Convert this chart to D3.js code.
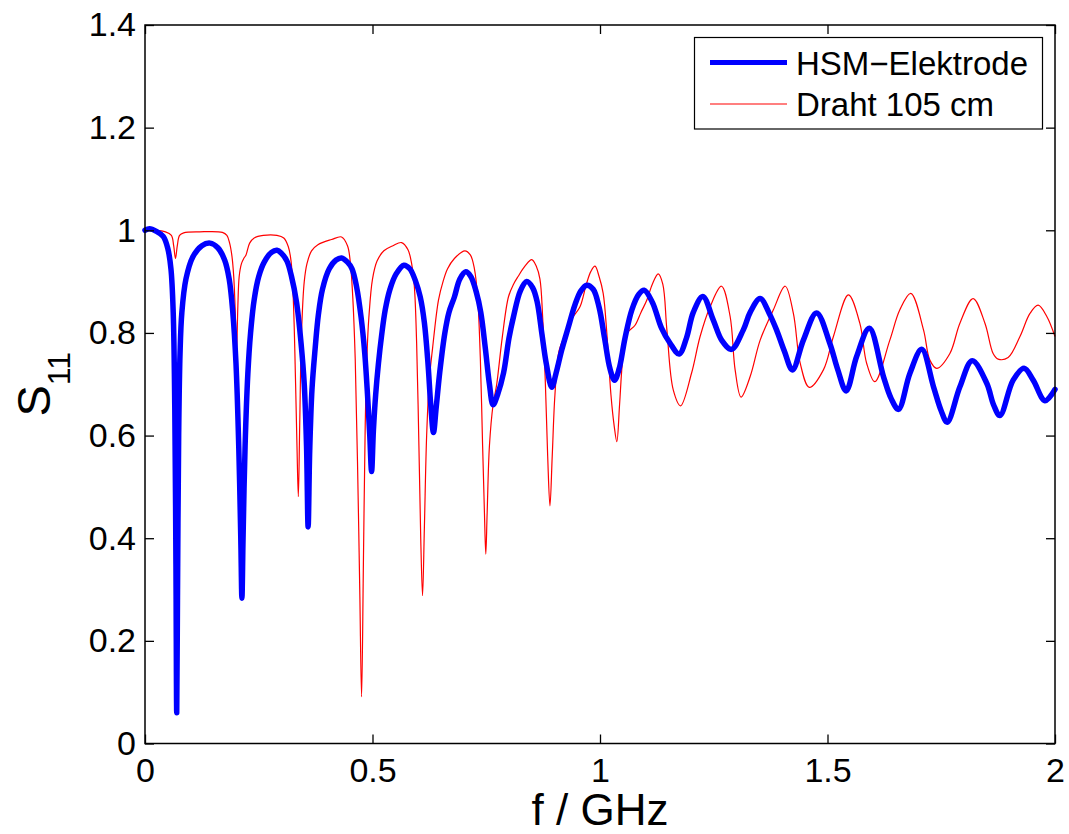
<!DOCTYPE html>
<html>
<head>
<meta charset="utf-8">
<script src="https://cdn.jsdelivr.net/npm/d3@7"></script>
<style>
  body { margin: 0; background: #fff; }
  svg { display: block; font-family: "Liberation Sans", Arial, Helvetica, sans-serif; }
</style>
</head>
<body>
<svg width="1069" height="834"></svg>
<script>
// S11 of HSM electrode vs. 105 cm wire
var xTicks = [0, 0.5, 1, 1.5, 2];
var xTickLabels = ["0", "0.5", "1", "1.5", "2"];
var yTicks = [0, 0.2, 0.4, 0.6, 0.8, 1, 1.2, 1.4];
var yTickLabels = ["0", "0.2", "0.4", "0.6", "0.8", "1", "1.2", "1.4"];
var seriesNames = ["HSM\u2212Elektrode", "Draht 105 cm"];

var hsmF = [0, 0.01, 0.025, 0.04, 0.05, 0.057, 0.062, 0.0655, 0.068, 0.0697, 0.0715, 0.074, 0.077, 0.081, 0.09,
  0.105, 0.125, 0.143, 0.16, 0.175, 0.185, 0.193, 0.2, 0.206, 0.2105, 0.213, 0.2155, 0.22, 0.226, 0.232, 0.24,
  0.25, 0.262, 0.278, 0.29, 0.3, 0.312, 0.322, 0.333, 0.343, 0.35, 0.355, 0.3585, 0.362, 0.367, 0.374, 0.381,
  0.39, 0.405, 0.42, 0.432, 0.445, 0.455, 0.465, 0.475, 0.483, 0.489, 0.494, 0.498, 0.502, 0.507, 0.513, 0.52,
  0.528, 0.538, 0.552, 0.569, 0.582, 0.595, 0.605, 0.614, 0.622, 0.628, 0.634, 0.64, 0.648, 0.659, 0.668, 0.68,
  0.692, 0.705, 0.716, 0.728, 0.738, 0.748, 0.757, 0.765, 0.775, 0.788, 0.8, 0.81, 0.825, 0.839, 0.852, 0.862,
  0.872, 0.882, 0.894, 0.903, 0.916, 0.93, 0.945, 0.958, 0.971, 0.985, 0.998, 1.01, 1.022, 1.032, 1.042, 1.055,
  1.07, 1.085, 1.097, 1.115, 1.135, 1.154, 1.174, 1.19, 1.205, 1.226, 1.249, 1.268, 1.289, 1.315, 1.33, 1.352,
  1.372, 1.388, 1.405, 1.423, 1.447, 1.476, 1.505, 1.522, 1.541, 1.564, 1.592, 1.623, 1.64, 1.656, 1.681, 1.707,
  1.733, 1.75, 1.763, 1.791, 1.818, 1.85, 1.865, 1.879, 1.908, 1.932, 1.952, 1.978, 2.0];
var hsmS = [1.0, 1.003, 0.998, 0.988, 0.965, 0.925, 0.84, 0.65, 0.35, 0.06, 0.3, 0.6, 0.76, 0.84, 0.905,
  0.948, 0.97, 0.975, 0.966, 0.942, 0.905, 0.84, 0.74, 0.58, 0.4, 0.283, 0.4, 0.58, 0.72, 0.8, 0.865,
  0.91, 0.938, 0.957, 0.961, 0.955, 0.94, 0.91, 0.86, 0.78, 0.7, 0.58, 0.422, 0.57, 0.69, 0.77, 0.835,
  0.885, 0.925, 0.942, 0.946, 0.938, 0.925, 0.89, 0.83, 0.76, 0.68, 0.6, 0.53, 0.61, 0.68, 0.74, 0.795,
  0.845, 0.884, 0.915, 0.932, 0.925, 0.9, 0.87, 0.82, 0.74, 0.66, 0.606, 0.655, 0.725, 0.8, 0.84, 0.87,
  0.905, 0.919, 0.91, 0.88, 0.84, 0.77, 0.7, 0.66, 0.68, 0.722, 0.79, 0.832, 0.882, 0.9, 0.888, 0.86,
  0.8, 0.74, 0.694, 0.72, 0.767, 0.81, 0.855, 0.882, 0.893, 0.885, 0.85, 0.79, 0.73, 0.708, 0.73, 0.79,
  0.845, 0.875, 0.883, 0.86, 0.81, 0.78, 0.759, 0.79, 0.84, 0.871, 0.825, 0.785, 0.768, 0.806, 0.84, 0.867,
  0.838, 0.806, 0.765, 0.728, 0.786, 0.839, 0.78, 0.73, 0.687, 0.754, 0.809, 0.715, 0.672, 0.651, 0.721, 0.768,
  0.695, 0.648, 0.626, 0.695, 0.746, 0.702, 0.66, 0.639, 0.708, 0.731, 0.708, 0.668, 0.69];

var drahtF = [0, 0.02, 0.045, 0.058, 0.063, 0.067, 0.071, 0.076, 0.085, 0.12, 0.17, 0.18, 0.186, 0.191, 0.195,
  0.198, 0.201, 0.204, 0.207, 0.212, 0.217, 0.222, 0.23, 0.24, 0.26, 0.29, 0.305, 0.315, 0.321, 0.326, 0.331,
  0.334, 0.337, 0.34, 0.344, 0.35, 0.356, 0.366, 0.38, 0.41, 0.432, 0.445, 0.451, 0.456, 0.462, 0.467, 0.472,
  0.476, 0.48, 0.484, 0.488, 0.492, 0.5, 0.51, 0.525, 0.545, 0.564, 0.578, 0.586, 0.592, 0.597, 0.602, 0.606,
  0.61, 0.614, 0.619, 0.625, 0.632, 0.645, 0.655, 0.665, 0.68, 0.703, 0.715, 0.724, 0.731, 0.737, 0.742, 0.746,
  0.749, 0.752, 0.757, 0.765, 0.773, 0.785, 0.799, 0.81, 0.82, 0.835, 0.85, 0.86, 0.868, 0.874, 0.88, 0.885,
  0.89, 0.895, 0.901, 0.91, 0.925, 0.94, 0.956, 0.97, 0.98, 0.989, 0.998, 1.007, 1.015, 1.024, 1.031, 1.037,
  1.043, 1.05, 1.059, 1.077, 1.09, 1.103, 1.115, 1.128, 1.138, 1.147, 1.161, 1.177, 1.201, 1.22, 1.242, 1.267,
  1.286, 1.297, 1.31, 1.33, 1.352, 1.381, 1.407, 1.425, 1.44, 1.46, 1.491, 1.513, 1.546, 1.571, 1.586, 1.604,
  1.637, 1.659, 1.683, 1.711, 1.725, 1.74, 1.769, 1.791, 1.82, 1.846, 1.864, 1.875, 1.897, 1.923, 1.945, 1.963,
  1.982, 2.0];
var drahtS = [1.0, 1.0, 0.997, 0.99, 0.97, 0.945, 0.97, 0.99, 0.995, 0.997, 0.996, 0.99, 0.975, 0.95, 0.91,
  0.85, 0.757, 0.85, 0.91, 0.935, 0.945, 0.952, 0.975, 0.985, 0.99, 0.99, 0.985, 0.968, 0.94, 0.864, 0.7,
  0.58, 0.481, 0.62, 0.8, 0.9, 0.935, 0.96, 0.972, 0.982, 0.987, 0.97, 0.94, 0.88, 0.75, 0.55, 0.3,
  0.091, 0.35, 0.62, 0.76, 0.83, 0.905, 0.94, 0.96, 0.97, 0.976, 0.962, 0.935, 0.89, 0.78, 0.58, 0.4,
  0.288, 0.42, 0.6, 0.71, 0.77, 0.864, 0.9, 0.925, 0.945, 0.96, 0.952, 0.925, 0.87, 0.75, 0.58, 0.45,
  0.369, 0.45, 0.58, 0.66, 0.7, 0.79, 0.871, 0.895, 0.91, 0.93, 0.943, 0.93, 0.905, 0.83, 0.7, 0.56,
  0.463, 0.56, 0.68, 0.765, 0.8, 0.83, 0.851, 0.895, 0.92, 0.93, 0.91, 0.877, 0.8, 0.68, 0.62, 0.588,
  0.66, 0.75, 0.799, 0.815, 0.84, 0.864, 0.895, 0.915, 0.895, 0.806, 0.689, 0.658, 0.721, 0.793, 0.851, 0.891,
  0.832, 0.728, 0.675, 0.715, 0.786, 0.845, 0.891, 0.838, 0.741, 0.694, 0.728, 0.793, 0.874, 0.819, 0.741, 0.705,
  0.786, 0.845, 0.877, 0.806, 0.747, 0.731, 0.76, 0.819, 0.867, 0.819, 0.76, 0.749, 0.752, 0.793, 0.838, 0.854,
  0.832, 0.793];

var svg = d3.select("svg");
var plotLeft = 145, plotRight = 1055, plotTop = 25, plotBottom = 743.5;

var x = d3.scaleLinear().domain([0, 2]).range([plotLeft, plotRight]);
var y = d3.scaleLinear().domain([0, 1.4]).range([plotBottom, plotTop]);

var hsm = hsmF.map(function(f, i) { return [f, hsmS[i]]; });
var draht = drahtF.map(function(f, i) { return [f, drahtS[i]]; });

var line = d3.line()
  .x(function(d) { return x(d[0]); })
  .y(function(d) { return y(d[1]); })
  .curve(d3.curveCatmullRom.alpha(0.5));

svg.append("path").datum(draht)
  .attr("fill", "none")
  .attr("stroke", "#ff0000")
  .attr("stroke-width", 1.2)
  .attr("d", line);

svg.append("path").datum(hsm)
  .attr("fill", "none")
  .attr("stroke", "#0000ff")
  .attr("stroke-width", 5.5)
  .attr("stroke-linejoin", "round")
  .attr("stroke-linecap", "round")
  .attr("d", line);

// axes: ticks point inward, mirrored on top and right
var tickLen = 9;
var styleAxis = function(g, size) {
  g.select(".domain").remove();
  g.attr("font-size", size).attr("font-family", "Liberation Sans, Arial, sans-serif");
  g.selectAll(".tick line").attr("stroke", "#000").attr("stroke-width", 1.3);
  g.selectAll(".tick text").attr("fill", "#000");
};

svg.append("g").attr("transform", "translate(0," + plotBottom + ")")
  .call(d3.axisBottom(x).tickValues(xTicks).tickSize(-tickLen).tickPadding(14)
    .tickFormat(function(d, i) { return xTickLabels[i]; }))
  .call(styleAxis, 34);

svg.append("g").attr("transform", "translate(0," + plotTop + ")")
  .call(d3.axisTop(x).tickValues(xTicks).tickSize(-tickLen).tickFormat(""))
  .call(styleAxis, 34);

svg.append("g").attr("transform", "translate(" + plotLeft + ",0)")
  .call(d3.axisLeft(y).tickValues(yTicks).tickSize(-tickLen).tickPadding(9)
    .tickFormat(function(d, i) { return yTickLabels[i]; }))
  .call(styleAxis, 34);

svg.append("g").attr("transform", "translate(" + plotRight + ",0)")
  .call(d3.axisRight(y).tickValues(yTicks).tickSize(-tickLen).tickFormat(""))
  .call(styleAxis, 34);

svg.append("rect")
  .attr("x", plotLeft).attr("y", plotTop)
  .attr("width", plotRight - plotLeft).attr("height", plotBottom - plotTop)
  .attr("fill", "none").attr("stroke", "#000").attr("stroke-width", 1.5);

// axis labels
svg.append("text")
  .attr("x", (plotLeft + plotRight) / 2).attr("y", 825)
  .attr("text-anchor", "middle").attr("font-size", "44px")
  .text("f / GHz");

var yl = svg.append("text")
  .attr("transform", "translate(50," + ((plotTop + plotBottom) / 2) + ") rotate(-90)")
  .attr("text-anchor", "middle").attr("font-size", "47px");
yl.append("tspan").text("S");
yl.append("tspan").attr("font-size", "32px").attr("dy", 20).text("11");

// legend
var legend = svg.append("g");
legend.append("rect")
  .attr("x", 694.5).attr("y", 37.5).attr("width", 348).attr("height", 91.5)
  .attr("fill", "#fff").attr("stroke", "#000").attr("stroke-width", 1.2);

var legendColors = ["#0000ff", "#ff0000"];
var legendWidths = [5, 1.2];
var legendY = [62.5, 104];
seriesNames.forEach(function(name, i) {
  legend.append("line")
    .attr("x1", 710).attr("x2", 787)
    .attr("y1", legendY[i]).attr("y2", legendY[i])
    .attr("stroke", legendColors[i]).attr("stroke-width", legendWidths[i]);
  legend.append("text")
    .attr("x", 796).attr("y", legendY[i] + 12)
    .attr("font-size", "33px")
    .text(name);
});
</script>
</body>
</html>
